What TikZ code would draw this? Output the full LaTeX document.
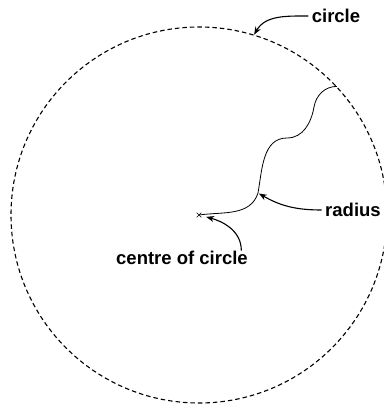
\documentclass[tikz,border=0pt]{standalone}
\usepackage{fontspec}
\setmainfont{Liberation Sans}
\usepackage{tikz}
\usetikzlibrary{arrows.meta, positioning, shapes.misc}

\begin{document}
\begin{tikzpicture}[
  x=1pt, y=1pt,
  every node/.style={font=\fontsize{18.5}{21}\selectfont\bfseries},
  rim/.style={draw, circle, dash pattern=on 4.5pt off 3pt, line width=1.1pt, minimum size=376pt, inner sep=0pt},
  centremark/.style={draw, cross out, minimum size=4pt, inner sep=0pt, line width=0.6pt},
  callout/.style={-{Stealth[length=8pt,width=6pt]}, line width=1.1pt},
  radiusline/.style={line width=0.8pt}
]
\useasboundingbox (0,0) rectangle (383,404);
\node[rim] (circ) at (199,189) {};
\node[centremark] (c) at (199,189) {};
\coordinate (bend) at (258,211);
\coordinate (edge) at (circ.43);
\draw[radiusline] (c.center) to[out=8,in=-108] (bend)
  to[out=80,in=180] (287,266)
  to[out=0,in=-100] (314,297)
  to[out=80,in=180] (edge);

\node (circlelabel) at (336,388) {circle};
\node (radiuslabel) at (353,194) {radius};
\node (centrelabel) at (182,146) {centre of circle};

\draw[callout] (circlelabel.west) to[out=180,in=60] (circ.73);
\draw[callout, shorten >=1pt] (radiuslabel.west) to[out=180,in=-30] (bend);
\draw[callout, shorten >=5pt] ([xshift=-10pt,yshift=-3pt]centrelabel.north east) to[out=90,in=-15] (c);
\end{tikzpicture}
\end{document}
